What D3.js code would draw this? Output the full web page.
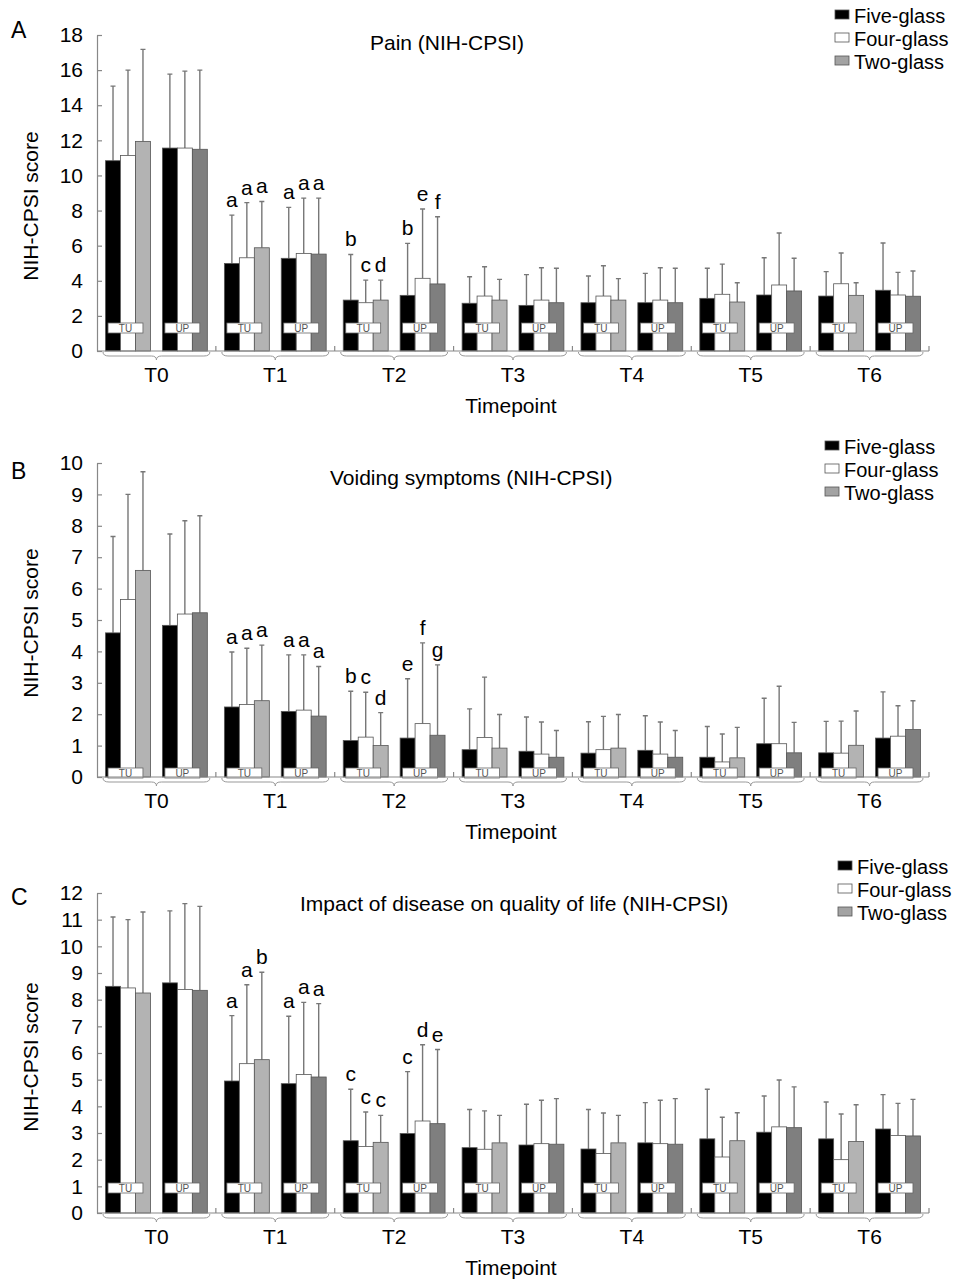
<!DOCTYPE html>
<html>
<head>
<meta charset="utf-8">
<script src="https://cdn.jsdelivr.net/npm/d3@7"></script>
<style>
  body { margin: 0; background: #fff; }
  text { font-family: "Liberation Sans", Arial, sans-serif; fill: #000; }
</style>
</head>
<body>
<div id="chart-area"></div>
<script>
// size of the page
var width = 957,
    height = 1280;

var timepoints = ["T0", "T1", "T2", "T3", "T4", "T5", "T6"];
var sites = ["TU", "UP"];
var series = ["Five-glass", "Four-glass", "Two-glass"];

// values per bar, order: T0-TU, T0-UP, T1-TU, T1-UP ... T6-UP
// "Upper" = top of the error bar (mean + SD)
var painFive       = [10.84, 11.56, 4.99, 5.28, 2.90, 3.17, 2.72, 2.60, 2.75, 2.75, 3.00, 3.19, 3.13, 3.46];
var painFiveUpper  = [15.09, 15.77, 7.74, 8.18, 5.50, 6.13, 4.23, 4.35, 4.27, 4.42, 4.71, 5.31, 4.52, 6.15];
var painFour       = [11.14, 11.56, 5.31, 5.56, 2.75, 4.14, 3.13, 2.90, 3.13, 2.90, 3.23, 3.76, 3.83, 3.19];
var painFourUpper  = [16.00, 15.94, 8.45, 8.71, 4.04, 8.09, 4.80, 4.74, 4.86, 4.74, 4.95, 6.72, 5.58, 4.48];
var painTwo        = [11.94, 11.49, 5.88, 5.52, 2.90, 3.82, 2.90, 2.75, 2.90, 2.75, 2.79, 3.42, 3.17, 3.12];
var painTwoUpper   = [17.18, 16.00, 8.52, 8.71, 4.04, 7.65, 4.08, 4.71, 4.12, 4.71, 3.89, 5.28, 3.89, 4.56];
var painLetters    = [["", "", ""], ["", "", ""], ["a", "a", "a"], ["a", "a", "a"], ["b", "c", "d"], ["b", "e", "f"]];

var voidFive       = [4.59, 4.83, 2.23, 2.09, 1.16, 1.24, 0.87, 0.82, 0.76, 0.85, 0.63, 1.06, 0.77, 1.24];
var voidFiveUpper  = [7.66, 7.74, 3.98, 3.89, 2.73, 3.13, 2.17, 1.91, 1.76, 1.95, 1.61, 2.51, 1.77, 2.71];
var voidFour       = [5.65, 5.19, 2.31, 2.13, 1.27, 1.70, 1.26, 0.73, 0.87, 0.73, 0.48, 1.06, 0.76, 1.30];
var voidFourUpper  = [9.00, 8.16, 4.10, 3.89, 2.70, 4.27, 3.18, 1.75, 1.93, 1.75, 1.37, 2.89, 1.78, 2.27];
var voidTwo        = [6.58, 5.23, 2.43, 1.94, 1.00, 1.33, 0.92, 0.63, 0.92, 0.63, 0.61, 0.77, 1.01, 1.51];
var voidTwoUpper   = [9.72, 8.32, 4.20, 3.52, 2.05, 3.57, 1.99, 1.48, 1.99, 1.48, 1.58, 1.74, 2.10, 2.43];
var voidLetters    = [["", "", ""], ["", "", ""], ["a", "a", "a"], ["a", "a", "a"], ["b", "c", "d"], ["e", "f", "g"]];

var qolFive        = [8.50, 8.63, 4.95, 4.85, 2.71, 2.98, 2.45, 2.55, 2.40, 2.63, 2.78, 3.03, 2.78, 3.15];
var qolFiveUpper   = [11.10, 11.33, 7.40, 7.38, 4.64, 5.30, 3.88, 4.08, 3.88, 4.14, 4.64, 4.39, 4.16, 4.44];
var qolFour        = [8.44, 8.38, 5.60, 5.19, 2.49, 3.45, 2.39, 2.60, 2.23, 2.60, 2.10, 3.23, 2.00, 2.91];
var qolFourUpper   = [11.00, 11.60, 8.56, 7.90, 3.79, 6.31, 3.83, 4.23, 3.75, 4.23, 3.59, 4.99, 3.71, 4.11];
var qolTwo         = [8.25, 8.35, 5.75, 5.10, 2.65, 3.35, 2.63, 2.58, 2.63, 2.58, 2.71, 3.20, 2.68, 2.89];
var qolTwoUpper    = [11.29, 11.50, 9.03, 7.85, 3.66, 6.13, 3.66, 4.29, 3.66, 4.29, 3.76, 4.73, 4.06, 4.26];
var qolLetters     = [["", "", ""], ["", "", ""], ["a", "a", "b"], ["a", "a", "a"], ["c", "c", "c"], ["c", "d", "e"]];

// panel layout
var panels = [
    { letter: "A", letterY: 38, title: "Pain (NIH-CPSI)", titleX: 370, titleY: 50,
      yMax: 18, yStep: 2, top: 35, bottom: 351, boxLift: 18,
      legendX: 835, legendY: 23, labelY: 206,
      means: [painFive, painFour, painTwo], uppers: [painFiveUpper, painFourUpper, painTwoUpper], letters: painLetters },
    { letter: "B", letterY: 479, title: "Voiding symptoms (NIH-CPSI)", titleX: 330, titleY: 485,
      yMax: 10, yStep: 1, top: 463, bottom: 777, boxLift: -1,
      legendX: 825, legendY: 454, labelY: 623,
      means: [voidFive, voidFour, voidTwo], uppers: [voidFiveUpper, voidFourUpper, voidTwoUpper], letters: voidLetters },
    { letter: "C", letterY: 905, title: "Impact of disease on quality of life (NIH-CPSI)", titleX: 300, titleY: 911,
      yMax: 12, yStep: 1, top: 893, bottom: 1213, boxLift: 20,
      legendX: 838, legendY: 874, labelY: 1057,
      means: [qolFive, qolFour, qolTwo], uppers: [qolFiveUpper, qolFourUpper, qolTwoUpper], letters: qolLetters }
];

var axisLeft = 97,
    axisRight = 929;

var fillTU = ["#000", "#fff", "#b3b3b3"],
    fillUP = ["#000", "#fff", "#7f7f7f"],
    fillLegend = ["#000", "#fff", "#a3a3a3"];

var svg = d3.select("#chart-area").append("svg")
    .attr("width", width)
    .attr("height", height);

var groupScale = d3.scaleBand()
    .domain(timepoints)
    .range([axisLeft, axisRight]);

var siteScale = d3.scaleBand()
    .domain(sites)
    .range([0, groupScale.bandwidth()])
    .paddingInner(0.21)
    .paddingOuter(0.15);

var seriesScale = d3.scaleBand()
    .domain(series)
    .range([0, siteScale.bandwidth()]);

panels.forEach(function (p) {
    var g = svg.append("g");

    var y = d3.scaleLinear()
        .domain([0, p.yMax])
        .range([p.bottom, p.top]);

    // flatten to one record per bar
    var bars = [];
    timepoints.forEach(function (t, ti) {
        sites.forEach(function (s, si) {
            var idx = ti * 2 + si;
            series.forEach(function (name, k) {
                bars.push({
                    t: t, site: s, k: k,
                    mean: p.means[k][idx],
                    upper: p.uppers[k][idx],
                    letter: p.letters[idx] ? p.letters[idx][k] : "",
                    x: groupScale(t) + siteScale(s) + seriesScale(name)
                });
            });
        });
    });

    var bw = seriesScale.bandwidth();

    // error bars (upper only)
    g.selectAll(".err")
        .data(bars)
        .enter()
        .append("path")
        .attr("class", "err")
        .attr("d", function (d) {
            var cx = d.x + bw / 2;
            return "M" + cx + "," + y(d.mean) + "V" + y(d.upper) +
                "M" + (cx - 2.5) + "," + y(d.upper) + "H" + (cx + 2.5);
        })
        .attr("stroke", "#777")
        .attr("stroke-width", 1.4)
        .attr("fill", "none");

    g.selectAll(".bar")
        .data(bars)
        .enter()
        .append("rect")
        .attr("class", "bar")
        .attr("x", function (d) { return d.x; })
        .attr("width", bw)
        .attr("y", function (d) { return y(d.mean); })
        .attr("height", function (d) { return y(0) - y(d.mean); })
        .attr("fill", function (d) { return d.site === "TU" ? fillTU[d.k] : fillUP[d.k]; })
        .attr("stroke", "#555")
        .attr("stroke-width", 0.8);

    // significance letters
    g.selectAll(".sig")
        .data(bars.filter(function (d) { return d.letter; }))
        .enter()
        .append("text")
        .attr("class", "sig")
        .attr("x", function (d) { return d.x + bw / 2; })
        .attr("y", function (d) { return y(d.upper) - 8; })
        .attr("text-anchor", "middle")
        .style("font-size", "21px")
        .text(function (d) { return d.letter; });

    // TU / UP boxes
    var boxes = [];
    timepoints.forEach(function (t) {
        sites.forEach(function (s) { boxes.push({ t: t, s: s }); });
    });
    var boxG = g.selectAll(".sitebox")
        .data(boxes)
        .enter()
        .append("g")
        .attr("class", "sitebox")
        .attr("transform", function (d) {
            return "translate(" + (groupScale(d.t) + siteScale(d.s) + 2.5) + "," + (p.bottom - p.boxLift - 10) + ")";
        });
    boxG.append("rect")
        .attr("width", siteScale.bandwidth() - 10)
        .attr("height", 10)
        .attr("fill", "#fff")
        .attr("stroke", "#666")
        .attr("stroke-width", 0.8);
    boxG.append("text")
        .attr("x", (siteScale.bandwidth() - 10) / 2)
        .attr("y", 9)
        .attr("text-anchor", "middle")
        .style("font-size", "10px")
        .style("fill", "#555")
        .text(function (d) { return d.s; });

    // y axis
    var yAxis = d3.axisLeft(y)
        .tickValues(d3.range(0, p.yMax + 1, p.yStep))
        .tickSizeInner(-5)
        .tickSizeOuter(0)
        .tickPadding(14);

    var ya = g.append("g")
        .attr("class", "axis y-axis")
        .attr("transform", "translate(" + axisLeft + ",0)")
        .call(yAxis);
    ya.selectAll("path, line").attr("stroke", "#888").attr("stroke-width", 1.2);
    ya.selectAll("text")
        .style("font-size", "21px")
        .style("font-family", "'Liberation Sans', Arial, sans-serif")
        .attr("fill", "#000");

    // x axis line with group ticks
    g.append("line")
        .attr("x1", axisLeft).attr("x2", axisRight)
        .attr("y1", p.bottom).attr("y2", p.bottom)
        .attr("stroke", "#888")
        .attr("stroke-width", 1.2);

    g.selectAll(".gtick")
        .data(timepoints)
        .enter()
        .append("line")
        .attr("class", "gtick")
        .attr("x1", function (t) { return groupScale(t) + groupScale.bandwidth(); })
        .attr("x2", function (t) { return groupScale(t) + groupScale.bandwidth(); })
        .attr("y1", p.bottom)
        .attr("y2", p.bottom - 5)
        .attr("stroke", "#888")
        .attr("stroke-width", 1.2);

    // braces under each timepoint
    g.selectAll(".brace")
        .data(timepoints)
        .enter()
        .append("path")
        .attr("class", "brace")
        .attr("d", function (t) {
            var x0 = groupScale(t) + 6,
                x1 = groupScale(t) + groupScale.bandwidth() - 6,
                xc = (x0 + x1) / 2,
                y0 = p.bottom + 1;
            return "M" + x0 + "," + y0 +
                "Q" + x0 + "," + (y0 + 4) + " " + (x0 + 6) + "," + (y0 + 4) +
                "H" + (xc - 5) +
                "Q" + xc + "," + (y0 + 4) + " " + xc + "," + (y0 + 8) +
                "Q" + xc + "," + (y0 + 4) + " " + (xc + 5) + "," + (y0 + 4) +
                "H" + (x1 - 6) +
                "Q" + x1 + "," + (y0 + 4) + " " + x1 + "," + y0;
        })
        .attr("fill", "none")
        .attr("stroke", "#999")
        .attr("stroke-width", 1);

    g.selectAll(".tlabel")
        .data(timepoints)
        .enter()
        .append("text")
        .attr("class", "tlabel")
        .attr("x", function (t) { return groupScale(t) + groupScale.bandwidth() / 2; })
        .attr("y", p.bottom + 31)
        .attr("text-anchor", "middle")
        .style("font-size", "21px")
        .text(function (t) { return t; });

    g.append("text")
        .attr("x", 511)
        .attr("y", p.bottom + 62)
        .attr("text-anchor", "middle")
        .style("font-size", "21px")
        .text("Timepoint");

    g.append("text")
        .attr("transform", "translate(38," + p.labelY + ") rotate(-90)")
        .attr("text-anchor", "middle")
        .style("font-size", "21px")
        .text("NIH-CPSI score");

    g.append("text")
        .attr("x", 11)
        .attr("y", p.letterY)
        .style("font-size", "23px")
        .text(p.letter);

    g.append("text")
        .attr("x", p.titleX)
        .attr("y", p.titleY)
        .style("font-size", "21px")
        .text(p.title);

    // legend
    var lg = g.selectAll(".legend")
        .data(series)
        .enter()
        .append("g")
        .attr("class", "legend")
        .attr("transform", function (d, i) {
            return "translate(" + p.legendX + "," + (p.legendY + i * 23) + ")";
        });
    lg.append("rect")
        .attr("x", 0)
        .attr("y", -13)
        .attr("width", 14)
        .attr("height", 9)
        .attr("fill", function (d, i) { return fillLegend[i]; })
        .attr("stroke", "#555")
        .attr("stroke-width", 0.8);
    lg.append("text")
        .attr("x", 19)
        .attr("y", 0)
        .style("font-size", "20px")
        .text(function (d) { return d; });
});
</script>
</body>
</html>
